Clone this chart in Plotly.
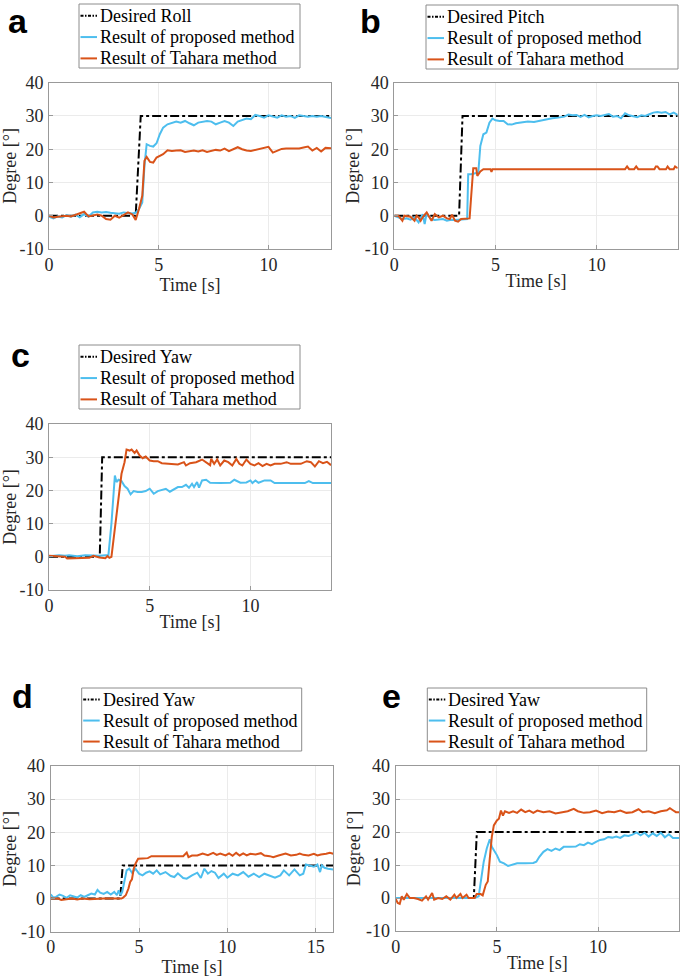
import plotly.graph_objects as go

# ---------------- data ----------------
Y_TICKS = [-10, 0, 10, 20, 30, 40]
Y_TICKTEXT = ["-10", "0", "10", "20", "30", "40"]

# panel a : roll
A_DESIRED = [(0, 0), (3.95, 0), (4.18, 30), (12.85, 30)]
A_PROPOSED = [(0, -0.3), (0.2, -0.8), (0.4, -0.2), (0.6, -0.5), (0.8, 0.2), (1.0, -0.3), (1.2, 0.3),
              (1.4, -0.5), (1.6, 0.5), (1.8, -0.3), (2.0, 1.0), (2.2, 1.2), (2.4, 1.0), (2.6, 1.1),
              (2.8, 0.9), (3.0, 0.8), (3.2, 0.6), (3.4, 1.0), (3.6, 0.8), (3.8, 0.7), (3.95, 0.9),
              (4.1, 2.0), (4.25, 4.0), (4.35, 15.0), (4.45, 21.5), (4.6, 21.0), (4.75, 20.8), (4.9, 21.8),
              (5.05, 24.5), (5.2, 26.5), (5.4, 27.5), (5.6, 27.8), (5.8, 28.3), (6.0, 28.0), (6.2, 28.5),
              (6.4, 27.8), (6.6, 27.2), (6.8, 28.0), (7.0, 28.3), (7.2, 28.5), (7.4, 28.3), (7.6, 27.5),
              (7.8, 28.0), (8.0, 28.5), (8.2, 28.0), (8.4, 27.0), (8.6, 28.3), (8.8, 28.8), (9.0, 29.2),
              (9.2, 29.0), (9.4, 30.3), (9.6, 30.0), (9.8, 29.5), (10.0, 30.2), (10.2, 29.8), (10.4, 29.5),
              (10.6, 30.2), (10.8, 29.8), (11.0, 30.0), (11.2, 29.4), (11.4, 30.2), (11.6, 30.0),
              (11.8, 29.8), (12.0, 30.0), (12.2, 29.8), (12.4, 30.0), (12.6, 29.8), (12.85, 29.4)]
A_TAHARA = [(0, 0.0), (0.2, -0.5), (0.4, -0.3), (0.6, -0.2), (0.8, 0.0), (1.0, -0.2), (1.2, 0.3),
            (1.4, 0.9), (1.6, 1.2), (1.8, -0.2), (2.0, 0.2), (2.2, 0.4), (2.4, 0.0), (2.6, -1.0),
            (2.8, -1.2), (3.0, 0.0), (3.2, -0.6), (3.4, 0.3), (3.6, 1.0), (3.8, 0.4), (3.95, -1.3),
            (4.1, 2.0), (4.25, 6.0), (4.35, 16.5), (4.45, 17.7), (4.6, 16.2), (4.75, 16.0), (4.9, 17.5),
            (5.05, 18.0), (5.2, 18.5), (5.4, 19.7), (5.6, 19.5), (5.8, 19.6), (6.0, 19.7), (6.2, 19.2),
            (6.4, 19.5), (6.6, 19.6), (6.8, 19.3), (7.0, 19.7), (7.2, 19.2), (7.4, 19.6), (7.6, 19.8),
            (7.8, 19.6), (8.0, 20.2), (8.2, 19.4), (8.4, 20.0), (8.6, 20.6), (8.8, 20.0), (9.0, 19.6),
            (9.2, 19.5), (9.4, 19.8), (9.6, 20.2), (9.8, 20.4), (10.0, 20.7), (10.2, 19.0), (10.4, 19.6),
            (10.6, 20.1), (10.8, 20.2), (11.0, 20.2), (11.2, 20.3), (11.4, 20.2), (11.6, 20.5),
            (11.8, 20.8), (12.0, 19.6), (12.2, 20.4), (12.4, 19.3), (12.6, 20.4), (12.85, 20.3)]

# panel b : pitch
B_DESIRED = [(0, 0), (3.2, 0), (3.37, 30), (14, 30)]
B_PROPOSED = [(0, 0), (0.2, -0.5), (0.4, -1.0), (0.6, -0.8), (0.8, -1.2), (1.0, -0.5), (1.2, -2.0),
              (1.4, 0.5), (1.5, -2.5), (1.6, 0.8), (1.8, -1.0), (2.0, -1.3), (2.2, -1.2), (2.4, -1.0),
              (2.6, -1.5), (2.8, -1.2), (3.0, -1.3), (3.2, -1.2), (3.4, -1.3), (3.6, -1.0), (3.65, 12.5),
              (3.8, 12.5), (4.0, 12.8), (4.15, 13.0), (4.25, 21.0), (4.4, 24.5), (4.55, 25.0), (4.7, 28.0),
              (4.85, 29.2), (5.0, 28.7), (5.2, 28.5), (5.4, 28.5), (5.6, 27.5), (5.8, 27.4), (6.0, 27.8),
              (6.3, 28.0), (6.6, 28.3), (6.9, 28.2), (7.2, 28.6), (7.5, 28.8), (7.8, 29.3), (8.1, 29.5),
              (8.4, 29.8), (8.6, 30.4), (8.8, 30.2), (9.0, 30.3), (9.2, 29.7), (9.4, 30.3), (9.6, 29.6),
              (9.8, 30.0), (10.0, 30.2), (10.2, 30.0), (10.4, 30.2), (10.6, 30.6), (10.8, 29.8),
              (11.0, 30.0), (11.2, 29.3), (11.4, 30.8), (11.6, 30.2), (11.8, 30.0), (12.0, 29.6),
              (12.2, 30.2), (12.4, 30.0), (12.6, 30.5), (12.8, 31.0), (13.0, 31.2), (13.2, 31.0),
              (13.4, 31.2), (13.6, 30.5), (13.8, 31.0), (14.0, 30.3)]
B_TAHARA = [(0, 0), (0.2, 0), (0.4, -1.5), (0.5, 0), (0.8, -0.3), (1.0, -1.5), (1.1, 0), (1.2, -0.5),
            (1.3, -1.5), (1.45, 0), (1.6, 1.0), (1.7, 0), (1.84, -1.5), (2.0, 0.5), (2.2, -0.5), (2.4, 0),
            (2.6, -0.8), (2.74, -1.0), (2.85, 0.3), (3.0, -1.5), (3.15, -1.8), (3.3, -1.0), (3.6, -1.0),
            (3.72, -0.8), (3.8, 6.0), (3.86, 12.5), (3.9, 14.3), (4.05, 14.3), (4.1, 12.0), (4.25, 13.3),
            (4.4, 14.0), (4.75, 14.0), (4.8, 13.2), (4.85, 14.0), (5.5, 14.0), (7.0, 14.0), (9.0, 14.0),
            (11.4, 14.0), (11.5, 14.8), (11.6, 14.0), (11.85, 14.0), (11.95, 14.8), (12.05, 14.0),
            (12.85, 14.0), (12.92, 14.8), (13.0, 14.8), (13.1, 14.0), (13.42, 14.0), (13.5, 14.8),
            (13.6, 14.0), (13.8, 14.0), (13.87, 14.8), (14.0, 14.3)]

# panel c : yaw
C_DESIRED = [(0, 0), (2.52, 0), (2.64, 30), (14, 30)]
C_PROPOSED = [(0, 0.2), (0.5, 0.5), (0.8, 0.3), (1.0, 0.5), (1.4, 0.2), (1.8, 0.5), (2.2, 0.4), (2.5, 0.3),
              (2.8, 0.5), (2.95, 0.5), (3.1, 10.0), (3.2, 20.0), (3.27, 24.5), (3.35, 22.5), (3.45, 23.2),
              (3.6, 22.8), (3.75, 21.3), (3.9, 20.5), (4.05, 18.8), (4.2, 19.8), (4.4, 19.5), (4.6, 19.5),
              (4.8, 19.8), (5.0, 20.5), (5.2, 19.0), (5.4, 19.8), (5.6, 20.2), (5.8, 20.5), (6.0, 19.6),
              (6.2, 20.2), (6.4, 21.0), (6.6, 21.0), (6.8, 21.7), (6.95, 20.8), (7.1, 22.0), (7.2, 21.0),
              (7.35, 22.5), (7.45, 20.8), (7.6, 23.0), (7.8, 23.2), (8.0, 22.3), (8.5, 22.2), (9.0, 22.3),
              (9.2, 23.2), (9.5, 22.3), (9.8, 22.4), (10.0, 23.0), (10.1, 22.2), (10.25, 23.0), (10.4, 22.3),
              (10.7, 23.0), (11.0, 23.0), (11.2, 22.2), (12.0, 22.2), (12.7, 22.2), (12.9, 22.8),
              (13.1, 22.2), (14.0, 22.2)]
C_TAHARA = [(0, 0.3), (0.5, 0.2), (0.8, 0.0), (0.9, -0.5), (1.2, -0.5), (1.6, -0.4), (2.0, -0.3), (2.2, 0.3),
            (2.5, -0.2), (2.8, -0.4), (2.9, 0.2), (3.0, -0.3), (3.1, 0.0), (3.2, 5.0), (3.3, 10.0),
            (3.45, 18.0), (3.6, 25.0), (3.75, 28.5), (3.85, 32.3), (4.0, 32.0), (4.1, 32.3), (4.25, 31.3),
            (4.35, 32.0), (4.5, 30.5), (4.65, 29.7), (4.8, 30.2), (5.0, 29.0), (5.2, 28.8), (5.4, 28.8),
            (5.6, 28.2), (6.0, 28.0), (6.4, 27.8), (6.7, 28.5), (6.8, 27.5), (7.0, 28.2), (7.3, 28.5),
            (7.6, 29.3), (7.8, 28.5), (8.0, 27.6), (8.05, 29.5), (8.2, 28.0), (8.35, 29.3), (8.5, 27.5),
            (8.7, 29.0), (8.9, 28.5), (9.1, 27.5), (9.3, 29.5), (9.45, 28.0), (9.6, 27.5), (9.8, 29.3),
            (10.0, 28.0), (10.2, 27.5), (10.4, 28.2), (10.6, 27.3), (10.8, 28.0), (11.0, 27.5),
            (11.2, 28.0), (11.5, 28.0), (11.8, 28.5), (12.0, 28.0), (12.5, 28.0), (12.8, 28.8),
            (13.0, 28.5), (13.2, 27.2), (13.4, 28.8), (13.6, 28.2), (13.8, 28.6), (14.0, 27.6)]

# panel d : yaw
D_DESIRED = [(0, 0), (3.93, 0), (4.08, 10), (16, 10)]
D_PROPOSED = [(0, 1.3), (0.15, 0.3), (0.3, 0.5), (0.5, 1.2), (0.7, 0.8), (0.9, 0.2), (1.1, 1.0), (1.3, 0.7),
              (1.5, 0.3), (1.7, 1.0), (1.9, 0.5), (2.1, 1.0), (2.3, 1.5), (2.5, 1.2), (2.65, 2.6), (2.8, 1.8),
              (3.0, 1.4), (3.2, 2.0), (3.4, 1.2), (3.6, 2.0), (3.75, 1.0), (3.85, 2.5), (3.95, 1.0),
              (4.05, 2.0), (4.15, 5.0), (4.3, 8.5), (4.45, 9.0), (4.6, 7.8), (4.8, 9.0), (5.0, 7.5),
              (5.2, 7.0), (5.4, 7.8), (5.6, 8.2), (5.8, 7.5), (6.0, 8.5), (6.2, 7.3), (6.5, 8.0), (6.8, 6.8),
              (7.0, 6.5), (7.2, 7.6), (7.5, 6.2), (7.7, 6.0), (8.0, 7.0), (8.3, 7.8), (8.5, 6.2), (8.7, 9.0),
              (8.9, 7.5), (9.1, 8.3), (9.3, 7.8), (9.5, 6.2), (9.8, 7.5), (10.0, 6.3), (10.3, 7.5),
              (10.6, 7.0), (10.9, 8.0), (11.2, 6.6), (11.5, 7.5), (11.8, 6.5), (12.1, 7.5), (12.4, 7.0),
              (12.7, 6.3), (13.0, 7.0), (13.2, 8.5), (13.5, 7.0), (13.8, 8.8), (14.1, 7.0), (14.3, 7.5),
              (14.45, 10.3), (14.7, 10.0), (14.9, 9.6), (15.1, 10.3), (15.25, 8.0), (15.35, 10.0),
              (15.5, 9.3), (15.7, 9.0), (16.0, 8.8)]
D_TAHARA = [(0, 0), (0.4, 0), (0.6, -0.4), (0.9, -0.3), (1.2, 0), (1.5, -0.3), (1.8, 0), (2.2, -0.2),
            (2.6, 0), (3.0, 0), (3.5, 0), (4.0, 0), (4.1, 0.3), (4.25, 1.0), (4.4, 3.0), (4.5, 5.0),
            (4.6, 5.8), (4.7, 9.0), (4.8, 10.5), (4.95, 12.0), (5.2, 12.1), (5.5, 12.2), (5.7, 12.8),
            (6.0, 12.8), (6.5, 12.8), (7.0, 12.9), (7.5, 12.8), (7.7, 13.9), (7.8, 12.5), (8.0, 13.0),
            (8.3, 13.0), (8.6, 13.6), (8.9, 13.1), (9.2, 13.8), (9.4, 13.2), (9.6, 13.6), (9.9, 13.0),
            (10.1, 13.6), (10.3, 12.9), (10.5, 13.8), (10.7, 13.0), (10.9, 13.6), (11.1, 13.0),
            (11.3, 13.5), (11.6, 13.3), (11.9, 13.7), (12.1, 13.0), (12.4, 12.8), (12.6, 12.5),
            (12.9, 13.0), (13.1, 13.3), (13.3, 13.6), (13.6, 13.0), (13.9, 13.2), (14.1, 13.6),
            (14.3, 13.2), (14.6, 13.0), (14.9, 13.5), (15.1, 13.0), (15.3, 13.3), (15.6, 13.5),
            (15.8, 13.8), (16.0, 13.5)]

# panel e : yaw
E_DESIRED = [(0, 0), (3.86, 0), (4.01, 20), (14, 20)]
E_PROPOSED = [(0, 0), (1, 0), (2, 0), (3, 0), (3.9, 0), (4.1, 0.5), (4.2, 5.0), (4.35, 11.0), (4.5, 15.0),
              (4.65, 17.8), (4.75, 15.5), (4.9, 14.0), (5.0, 13.0), (5.15, 11.0), (5.35, 10.5), (5.55, 9.7),
              (5.75, 10.0), (6.0, 10.5), (6.4, 10.5), (6.8, 10.6), (6.95, 11.0), (7.1, 12.5), (7.3, 14.0),
              (7.5, 14.8), (7.7, 14.3), (7.9, 15.0), (8.1, 14.5), (8.3, 15.5), (8.6, 15.5), (8.9, 15.6),
              (9.1, 16.3), (9.3, 16.0), (9.5, 16.8), (9.7, 16.3), (9.9, 17.0), (10.1, 17.6), (10.3, 17.8),
              (10.5, 18.5), (10.7, 18.3), (10.9, 18.6), (11.1, 18.2), (11.3, 19.0), (11.5, 18.8),
              (11.7, 19.2), (11.9, 19.9), (12.1, 19.0), (12.3, 19.8), (12.5, 18.6), (12.7, 19.6),
              (12.9, 18.8), (13.1, 19.8), (13.3, 18.4), (13.5, 19.3), (13.7, 18.2), (14.0, 18.2)]
E_TAHARA = [(0, -0.3), (0.1, -1.5), (0.2, -1.8), (0.3, 0.5), (0.4, -0.5), (0.55, 1.2), (0.7, 0.0),
            (0.9, 0.0), (1.1, -0.3), (1.3, -0.8), (1.5, 0.5), (1.6, -0.5), (1.8, 1.5), (1.9, -0.5),
            (2.1, 0.0), (2.3, -0.3), (2.5, 0.5), (2.7, -0.5), (2.9, 1.0), (3.0, 0.0), (3.2, 1.2),
            (3.3, 0.0), (3.5, 1.0), (3.6, 0.0), (3.9, 0.0), (4.0, 1.2), (4.2, 1.2), (4.3, 0.8),
            (4.45, 4.0), (4.55, 5.0), (4.65, 12.0), (4.75, 18.5), (4.85, 22.0), (5.0, 23.5), (5.1, 24.0),
            (5.2, 26.5), (5.3, 25.0), (5.4, 26.3), (5.6, 25.8), (5.8, 26.3), (6.0, 25.8), (6.2, 26.8),
            (6.4, 26.0), (6.6, 26.5), (6.8, 25.8), (7.0, 26.5), (7.3, 26.0), (7.6, 26.3), (7.9, 25.6),
            (8.2, 26.0), (8.5, 26.3), (8.8, 27.0), (9.0, 26.3), (9.3, 25.8), (9.6, 26.0), (9.9, 26.5),
            (10.2, 25.7), (10.5, 26.2), (10.8, 26.0), (11.1, 26.5), (11.4, 25.8), (11.7, 26.0),
            (12.0, 26.9), (12.2, 26.0), (12.5, 26.3), (12.8, 25.7), (13.1, 26.3), (13.4, 26.6),
            (13.55, 27.2), (13.7, 26.6), (13.85, 26.0), (14.0, 26.0)]

PANELS = [
    # label, desired name, desired, proposed, tahara, xmax, xticks
    ("a", "Desired Roll", A_DESIRED, A_PROPOSED, A_TAHARA, 12.85, [0, 5, 10]),
    ("b", "Desired Pitch", B_DESIRED, B_PROPOSED, B_TAHARA, 14, [0, 5, 10]),
    ("c", "Desired Yaw", C_DESIRED, C_PROPOSED, C_TAHARA, 14, [0, 5, 10]),
    ("d", "Desired Yaw", D_DESIRED, D_PROPOSED, D_TAHARA, 16, [0, 5, 10, 15]),
    ("e", "Desired Yaw", E_DESIRED, E_PROPOSED, E_TAHARA, 14, [0, 5, 10]),
]
SERIES_NAMES = ["Result of proposed method", "Result of Tahara method"]

# ---------------- layout geometry (pixels of a 685x980 page) ----------------
W, H = 685, 980
PLOT_BOX = [  # left, right, top, bottom
    (49, 331, 82.7, 249),
    (394.3, 677.7, 82.7, 249),
    (49, 331, 424, 590),
    (50.7, 333.3, 766, 931.7),
    (395.7, 679, 766, 931),
]
LEGEND_BOX = [  # left, right, top, bottom
    (79, 300, 4, 68),
    (426, 678, 5, 69),
    (79, 300, 345, 409),
    (81.7, 301.7, 688, 751),
    (427.3, 646.7, 688, 751),
]
LABEL_POS = [(18, 32), (370, 32), (20, 366), (22, 707), (392, 707)]

BLUE = "#4DBEEE"
ORANGE = "#D95319"
SERIF = "Liberation Serif, Times New Roman, serif"
TXT = "#262626"
AXC = "#999999"


def px(x):
    return x / W


def py(y):
    return 1 - y / H


fig = go.Figure()
layout = dict(
    width=W, height=H, margin=dict(l=0, r=0, t=0, b=0, pad=0),
    paper_bgcolor="white", plot_bgcolor="white",
    font=dict(family=SERIF, size=18, color=TXT),
    showlegend=False,
)
annotations = []
shapes = []

for i, (lab, dname, des, prop, tah, xmax, xt) in enumerate(PANELS):
    n = "" if i == 0 else str(i + 1)
    xa, ya = "x" + n, "y" + n
    l, r, t, b = PLOT_BOX[i]
    styles = [
        (dname, des, "black", "dashdot"),
        (SERIES_NAMES[0], prop, BLUE, "solid"),
        (SERIES_NAMES[1], tah, ORANGE, "solid"),
    ]
    for name, data, color, dash in styles:
        fig.add_trace(go.Scatter(
            x=[p[0] for p in data], y=[p[1] for p in data], mode="lines",
            name=name, line=dict(color=color, dash=dash, width=2),
            xaxis=xa, yaxis=ya, hoverinfo="skip"))
    axis_common = dict(
        showline=True, linecolor=AXC, linewidth=1, mirror=True,
        ticks="inside", ticklen=4, tickcolor=AXC, automargin=False,
        showgrid=True, gridcolor="#ebebeb", gridwidth=1, zeroline=False,
        tickfont=dict(family=SERIF, size=18, color=TXT),
    )
    layout["xaxis" + n] = dict(
        axis_common, domain=[px(l), px(r)], range=[0, xmax], anchor=ya,
        tickvals=xt, ticktext=[str(v) for v in xt], ticklabelstandoff=-1,
        title=dict(text="Time [s]", font=dict(family=SERIF, size=18, color=TXT), standoff=0))
    layout["yaxis" + n] = dict(
        axis_common, domain=[py(b), py(t)], range=[-10, 40], anchor=xa,
        tickvals=Y_TICKS, ticktext=Y_TICKTEXT, ticklabelstandoff=1,
        title=dict(text="Degree [°]", font=dict(family=SERIF, size=18, color=TXT), standoff=0))

    # legend (box, line samples, labels)
    ll, lr, lt, lb = LEGEND_BOX[i]
    shapes.append(dict(type="rect", xref="paper", yref="paper",
                       x0=px(ll), x1=px(lr), y0=py(lb), y1=py(lt),
                       line=dict(color="#8c8c8c", width=1), fillcolor="white", layer="above"))
    row_h = (lb - lt) / 3.0
    for k, (name, _d, color, dash) in enumerate(styles):
        yc = lt + row_h * (k + 0.55)
        shapes.append(dict(type="line", xref="paper", yref="paper",
                           x0=px(ll + 1.5), x1=px(ll + 18), y0=py(yc), y1=py(yc),
                           line=dict(color=color, width=2,
                                     dash="3px,1.5px,1.5px,1.5px" if dash == "dashdot" else "solid"),
                           layer="above"))
        annotations.append(dict(
            text=name, x=px(ll + 19), y=py(yc), xref="paper", yref="paper",
            xanchor="left", yanchor="middle", showarrow=False,
            font=dict(family=SERIF, size=18, color="black")))

    lx, ly = LABEL_POS[i]
    annotations.append(dict(
        text="<b>%s</b>" % lab, x=px(lx), y=py(ly - 11), xref="paper", yref="paper",
        xanchor="center", yanchor="middle", showarrow=False,
        font=dict(family="Liberation Sans, Arial, sans-serif", size=34, color="black")))

layout["annotations"] = annotations
layout["shapes"] = shapes
fig.update_layout(**layout)
fig.write_html(
    "out.html",
    config={"displayModeBar": False, "staticPlot": True},
    post_script="document.body.style.margin='0';document.body.style.padding='0';"
                "document.documentElement.style.overflow='hidden';",
)
